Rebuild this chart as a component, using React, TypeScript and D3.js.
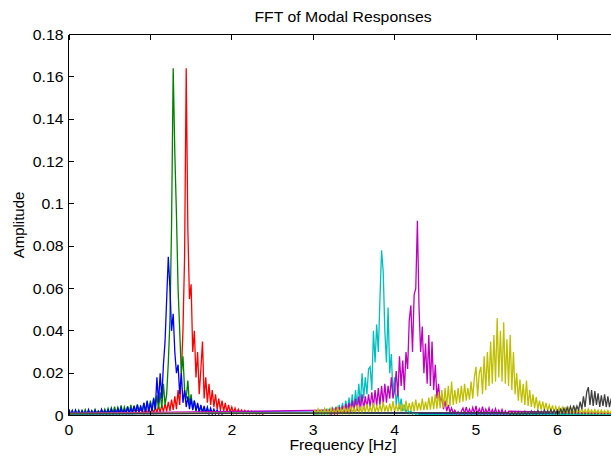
import React from 'react';
import * as d3 from 'd3';

// Frequency spacing between samples (Hz); amplitudes below are in thousandths (×1e-3)
const STEP = 0.02;
const F_END = 6.7;

const xTicks = [0, 1, 2, 3, 4, 5, 6];
const yTicks = [0, 0.02, 0.04, 0.06, 0.08, 0.1, 0.12, 0.14, 0.16, 0.18];
const yTickLabels = ['0', '0.02', '0.04', '0.06', '0.08', '0.1', '0.12', '0.14', '0.16', '0.18'];

const titleText = 'FFT of Modal Responses';
const xLabel = 'Frequency [Hz]';
const yLabel = 'Amplitude';

// red mode, starts at 0.90 Hz
const redAmp = [
  2.5, 0.8, 3.0, 1.0, 3.2, 0.9, 3.6, 1.2, 4.0, 1.4,
  4.5, 1.5, 5.0, 1.8, 5.5, 2.0, 6.5, 2.2, 7.5, 2.6,
  9.0, 3.0, 12.0, 5.0, 20.0, 40.0, 75.0, 164.0, 88.0, 55.0,
  62.0, 30.0, 40.0, 18.0, 30.0, 10.0, 22.0, 35.0, 8.0, 18.0,
  6.0, 15.0, 5.0, 12.0, 4.0, 10.0, 3.0, 8.0, 2.5, 7.0,
  2.0, 6.0, 1.6, 5.0, 1.4, 4.0, 1.2, 3.5, 1.0, 3.0,
  1.2, 2.6, 0.9, 2.4, 1.0, 2.2, 0.8, 2.0, 0.9, 1.8,
  0.7, 1.6, 0.8, 1.5, 0.6, 1.4,
];

// green mode, starts at 0.00 Hz
const greenAmp = [
  2.0, 0.6, 2.5, 0.5, 1.8, 0.7, 2.6, 0.5, 2.2, 0.8,
  2.8, 0.6, 2.0, 0.9, 2.4, 0.6, 2.9, 0.8, 2.2, 0.7,
  2.7, 0.8, 3.0, 1.0, 3.4, 0.9, 3.6, 1.1, 4.2, 1.0,
  3.8, 1.2, 4.8, 1.0, 4.0, 1.4, 4.4, 1.2, 5.0, 1.5,
  4.6, 1.4, 5.2, 1.6, 4.8, 1.8, 6.0, 1.7, 6.5, 2.0,
  7.0, 2.2, 8.5, 2.5, 9.5, 3.0, 11.0, 3.5, 15.0, 5.0,
  10.0, 25.0, 45.0, 90.0, 164.0, 124.0, 95.0, 60.0, 40.0, 20.0,
  28.0, 12.0, 8.0, 16.5, 5.0, 10.0, 3.0, 7.0, 2.5, 5.0,
  2.0, 4.0, 1.5, 3.2, 1.2, 2.8, 1.0, 2.2, 0.8, 1.8, 1.0,
];

// blue mode, starts at 0.00 Hz
const blueAmp = [
  3.0, 0.5, 2.2, 0.4, 2.6, 0.6, 2.0, 0.4, 2.4, 0.5,
  1.8, 0.6, 2.8, 0.4, 2.1, 0.5, 2.5, 0.6, 2.0, 0.5,
  2.9, 0.6, 2.2, 0.5, 2.6, 0.7, 3.0, 0.6, 2.4, 0.8,
  3.2, 0.7, 3.5, 0.9, 2.8, 1.0, 4.0, 0.9, 3.4, 1.1,
  4.5, 1.2, 5.0, 1.3, 4.2, 1.5, 6.0, 1.6, 7.0, 1.8,
  6.0, 2.0, 8.0, 3.0, 18.0, 6.0, 20.0, 8.0, 24.0, 35.0,
  55.0, 75.0, 60.0, 40.0, 48.0, 30.0, 20.0, 24.0, 10.0, 20.0,
  6.0, 12.0, 4.0, 9.0, 3.0, 8.0, 2.5, 7.0, 2.0, 6.0,
  1.6, 5.0, 1.4, 4.5, 1.2, 4.0, 1.0, 3.5, 0.9, 3.0,
  0.8, 2.6, 0.7, 2.2, 0.6, 1.8,
];

// cyan mode, starts at 3.00 Hz
const cyanAmp = [
  1.5, 0.4, 1.8, 0.5, 2.0, 0.5, 2.4, 0.6, 2.8, 0.7,
  3.0, 0.8, 3.5, 0.9, 4.0, 1.0, 5.0, 1.2, 6.0, 1.5,
  7.0, 2.0, 8.5, 2.5, 10.0, 3.0, 12.0, 4.0, 15.0, 5.0,
  20.0, 8.0, 18.0, 10.0, 22.0, 23.0, 12.0, 40.0, 25.0, 43.0,
  30.0, 55.0, 78.0, 68.0, 40.0, 25.0, 51.0, 20.0, 29.0, 10.0,
  18.0, 5.0, 12.0, 3.0, 8.0, 2.0, 5.0, 1.5, 3.5, 1.0,
  2.2, 0.6, 1.5, 0.5, 1.0, 0.4,
];

// magenta mode, starts at 3.20 Hz
const magentaAmp = [
  2.5, 0.6, 3.0, 0.8, 3.5, 0.9, 4.0, 1.0, 4.5, 1.2,
  5.5, 1.5, 6.0, 1.8, 7.0, 2.0, 8.0, 2.2, 9.0, 2.5,
  10.0, 3.0, 9.0, 3.5, 10.0, 4.0, 11.0, 4.0, 12.0, 4.5,
  13.0, 5.0, 14.0, 5.5, 15.0, 6.0, 14.0, 8.0, 18.0, 8.0,
  12.0, 21.0, 9.0, 28.0, 14.0, 26.0, 12.0, 30.0, 22.0, 45.0,
  52.0, 30.0, 57.0, 60.0, 92.0, 51.0, 30.0, 42.0, 20.0, 34.0,
  15.0, 38.0, 14.0, 35.0, 12.0, 24.0, 8.0, 15.0, 5.0, 10.0,
  3.0, 7.0, 2.0, 5.0, 1.5, 3.5, 1.0, 2.5, 0.8, 1.8,
  0.6, 2.0, 3.5, 0.8, 4.0, 1.0, 3.0, 0.7, 3.8, 1.0,
  4.5, 0.8, 3.2, 1.0, 4.2, 0.7, 3.0, 0.9, 3.6, 0.6,
  2.8, 0.8, 3.2, 0.5, 2.5, 0.7, 2.8, 0.5, 2.2, 0.6, 2.0,
];

// yellow mode, starts at 3.00 Hz
const yellowAmp = [
  1.2, 2.5, 0.6, 3.0, 0.8, 2.6, 0.6, 3.2, 0.9, 2.8,
  0.7, 3.5, 1.0, 3.0, 0.8, 3.8, 1.1, 3.2, 0.9, 4.0,
  1.2, 3.4, 1.0, 4.5, 1.3, 3.6, 1.1, 5.0, 1.4, 3.8,
  1.2, 4.6, 1.5, 5.5, 1.3, 4.2, 1.6, 6.0, 1.4, 4.5,
  1.7, 5.2, 1.5, 6.5, 1.8, 4.8, 1.6, 5.6, 1.9, 6.8,
  1.7, 5.0, 2.0, 6.0, 1.8, 5.4, 2.1, 7.0, 1.9, 5.8,
  2.2, 6.4, 2.0, 7.5, 2.3, 6.0, 2.4, 8.0, 2.5, 6.5, 2.6,
  8.5, 2.8, 9.0, 3.0, 10.0, 3.2, 11.0, 3.5, 12.0, 3.8, 13.0, 4.0, 14.0, 4.5, 16.0,
  5.0, 12.0, 5.5, 13.0, 6.0, 14.0, 6.5, 15.0, 7.0, 13.0, 7.5, 16.0, 8.0, 18.0, 23.0,
  9.0, 20.0, 23.0, 10.0, 28.0, 12.0, 30.0, 14.0, 35.0, 15.0, 38.0, 16.0, 46.0, 18.0, 40.0,
  16.0, 44.0, 15.0, 36.0, 14.0, 38.0, 12.0, 30.0, 10.0, 20.0, 7.0, 17.0, 6.0, 15.0, 5.0,
  16.5, 4.5, 12.0, 4.0, 10.0, 3.5, 8.7, 3.0, 7.0, 2.8, 6.5, 2.5, 6.0, 2.2, 5.0,
  2.0, 4.8, 1.6, 4.2, 1.5, 4.0, 1.4, 3.8, 1.5, 3.5,
  1.2, 3.6, 1.3, 3.2, 1.1, 3.4, 1.2, 3.0, 1.0, 3.2,
  1.1, 2.8, 0.9, 3.0, 1.0, 2.6, 0.9, 2.8, 1.0, 2.5,
  0.8, 2.6, 0.9, 2.3, 0.8, 2.4, 0.9, 2.0,
];

// dark grey mode, starts at 5.40 Hz
const grayAmp = [
  1.4, 0.4, 1.6, 0.5, 1.5, 0.4, 1.8, 0.5, 1.6, 0.6,
  2.0, 0.5, 1.7, 0.6, 2.2, 0.7, 1.9, 0.6, 2.4, 0.8,
  2.0, 0.7, 2.6, 0.8, 2.2, 0.9, 2.8, 1.0, 2.4, 1.0, 2.6,
  1.0, 3.0, 1.2, 3.4, 1.3, 3.8, 1.4, 4.2, 1.6, 4.8,
  1.8, 4.5, 2.5, 6.5, 3.0, 9.0, 4.0, 11.0, 13.4, 5.0,
  12.0, 4.5, 11.5, 5.0, 10.5, 4.0, 9.5, 4.5, 10.0, 4.0,
  9.0, 4.0, 8.0,
];

const seriesAmps = [redAmp, greenAmp, blueAmp, cyanAmp, magentaAmp, yellowAmp, grayAmp];
const seriesStart = [0.9, 0, 0, 3.0, 3.2, 3.0, 5.4];
const seriesFloor = [1.0, 0.8, 0.5, 0.6, 1.0, 1.0, 0.8];
const seriesColors = ['#ff0000', '#008000', '#0000ff', '#00bfbf', '#bf00bf', '#bfbf00', '#404040'];

const W = 611;
const H = 460;
const LEFT = 69;
const TOP = 34.5;
const BOTTOM = 415.5;
const PX_PER_HZ = 81.4;
const X_MAX = 7;
const TICK = 5;
const SX = 1.13;

const xScale = d3.scaleLinear().domain([0, X_MAX]).range([LEFT, LEFT + X_MAX * PX_PER_HZ]);
const yScale = d3.scaleLinear().domain([0, 0.18]).range([BOTTOM, TOP]);

const line = d3
  .line<[number, number]>()
  .x((d) => xScale(d[0]))
  .y((d) => yScale(d[1]));

function seriesPoints(i: number): [number, number][] {
  const amps = seriesAmps[i];
  const start = seriesStart[i];
  const floor = seriesFloor[i] / 1000;
  const pts: [number, number][] = [];
  if (start > 0) pts.push([0, floor]);
  amps.forEach((a, k) => pts.push([start + k * STEP, a / 1000]));
  pts.push([F_END, floor]);
  return pts;
}

function Txt(props: { x: number; y: number; anchor: string; size: number; children: React.ReactNode; dy?: string }) {
  return (
    <text
      transform={`translate(${props.x},${props.y}) scale(${SX},1)`}
      textAnchor={props.anchor}
      fontSize={props.size}
      dy={props.dy}
      fill="#000"
    >
      {props.children}
    </text>
  );
}

export default function App() {
  const xRight = W;
  return (
    <svg
      width={W}
      height={H}
      style={{ position: 'absolute', left: 0, top: 0, background: '#fff' }}
      fontFamily="'Liberation Sans', Arial, sans-serif"
    >
      <rect x={0} y={0} width={W} height={H} fill="#fff" />
      <defs>
        <clipPath id="plotClip">
          <rect x={LEFT} y={TOP} width={xRight - LEFT} height={BOTTOM - TOP + 1} />
        </clipPath>
      </defs>
      <g clipPath="url(#plotClip)">
        {seriesAmps.map((_, i) => (
          <path
            key={i}
            d={line(seriesPoints(i)) || ''}
            fill="none"
            stroke={seriesColors[i]}
            strokeWidth={1.3}
            strokeLinejoin="miter"
          />
        ))}
      </g>
      <g stroke="#000" strokeWidth={1} fill="none" shapeRendering="crispEdges">
        <line x1={LEFT - 0.5} y1={TOP} x2={xRight} y2={TOP} />
        <line x1={LEFT - 0.5} y1={BOTTOM} x2={xRight} y2={BOTTOM} />
        <line x1={LEFT - 0.5} y1={TOP} x2={LEFT - 0.5} y2={BOTTOM} />
        {xTicks.map((t) => (
          <g key={'xt' + t}>
            <line x1={xScale(t)} y1={BOTTOM} x2={xScale(t)} y2={BOTTOM - TICK} />
            <line x1={xScale(t)} y1={TOP} x2={xScale(t)} y2={TOP + TICK} />
          </g>
        ))}
        {yTicks.map((t) => (
          <line key={'yt' + t} x1={LEFT - 0.5} y1={yScale(t)} x2={LEFT - 0.5 + TICK} y2={yScale(t)} />
        ))}
      </g>
      {xTicks.map((t) => (
        <Txt key={'xl' + t} x={xScale(t)} y={434.5} anchor="middle" size={14}>
          {String(t)}
        </Txt>
      ))}
      {yTicks.map((t, i) => (
        <Txt key={'yl' + t} x={63.5} y={yScale(t)} anchor="end" size={14} dy="0.36em">
          {yTickLabels[i]}
        </Txt>
      ))}
      <Txt x={343} y={21.7} anchor="middle" size={14}>
        {titleText}
      </Txt>
      <Txt x={343} y={450} anchor="middle" size={14}>
        {xLabel}
      </Txt>
      <text transform={`translate(24,225) rotate(-90)`} textAnchor="middle" fontSize={15} fill="#000">
        {yLabel}
      </text>
    </svg>
  );
}
